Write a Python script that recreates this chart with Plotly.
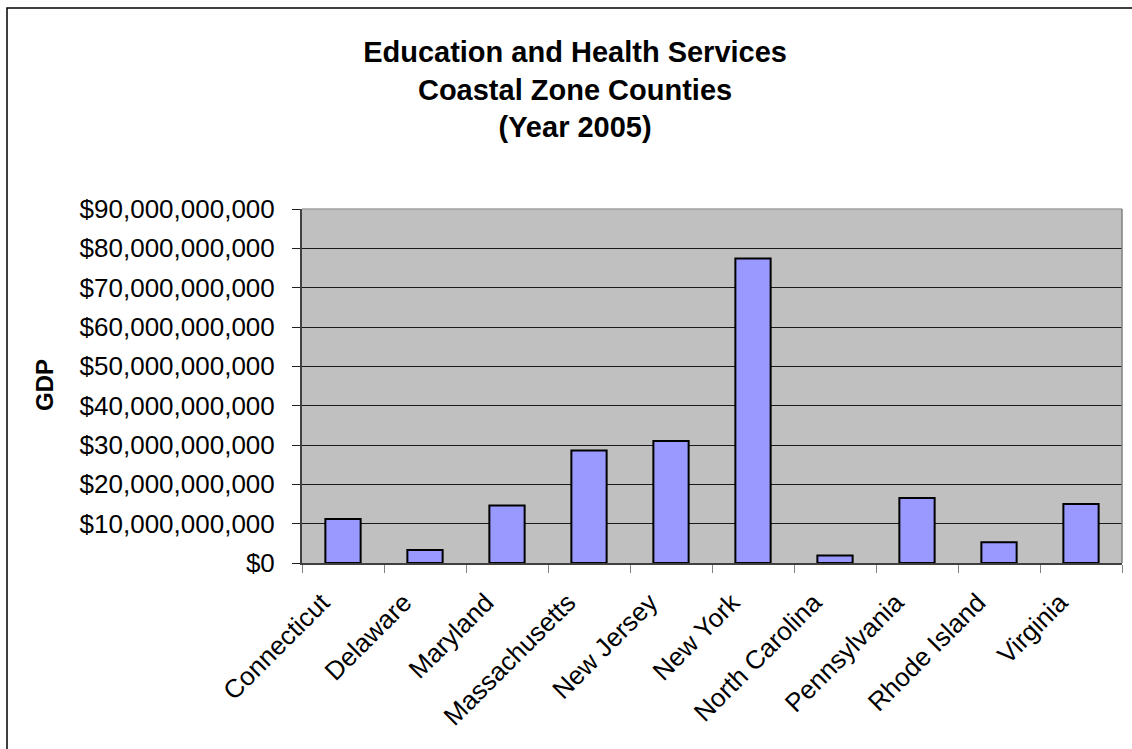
import plotly.graph_objects as go

# Coastal zone county GDP, education and health services, 2005
states = ["Connecticut", "Delaware", "Maryland", "Massachusetts", "New Jersey",
          "New York", "North Carolina", "Pennsylvania", "Rhode Island", "Virginia"]
gdp = [11.2e9, 3.3e9, 14.6e9, 28.6e9, 31.0e9, 77.4e9, 1.9e9, 16.5e9, 5.3e9, 15.0e9]
y_ticks = [i * 10e9 for i in range(10)]

FONT = "Liberation Sans, Arial, sans-serif"

fig = go.Figure(
    go.Bar(
        x=states,
        y=gdp,
        marker=dict(color="#9999FF", line=dict(color="#000000", width=2)),
        width=0.43,
    )
)

fig.update_layout(
    width=1132,
    height=749,
    margin=dict(l=302, r=10, t=209, b=186, autoexpand=False),
    paper_bgcolor="#FFFFFF",
    plot_bgcolor="#C0C0C0",
    showlegend=False,
    font=dict(family=FONT, color="#000000"),
    title=dict(
        text="<b>Education and Health Services<br>Coastal Zone Counties<br>(Year 2005)</b>",
        font=dict(family=FONT, size=29, color="#000000"),
        x=0.508,
        xanchor="center",
        xref="container",
        y=1 - 62 / 749,
        yanchor="top",
        yref="container",
    ),
)

fig.update_xaxes(
    type="category",
    tickangle=-45,
    tickfont=dict(family=FONT, size=26),
    tickson="boundaries",
    ticks="outside",
    ticklen=8,
    tickcolor="#808080",
    ticklabelshift=-21,
    ticklabelstandoff=12,
    showline=True,
    linecolor="#404040",
    linewidth=2,
    showgrid=False,
    automargin=False,
)

fig.update_yaxes(
    range=[0, 90e9],
    tickvals=y_ticks,
    tickformat="$,.0f",
    tickfont=dict(family=FONT, size=26),
    ticks="outside",
    ticklen=8,
    tickcolor="#202020",
    ticklabelstandoff=12,
    showline=True,
    linecolor="#404040",
    linewidth=2,
    showgrid=True,
    gridcolor="#1a1a1a",
    gridwidth=1,
    zeroline=False,
    automargin=False,
)

# Axis title
fig.add_annotation(
    text="<b>GDP</b>",
    xref="paper", yref="paper",
    x=(45 - 302) / 820, y=0.503,
    xanchor="center", yanchor="middle",
    showarrow=False,
    textangle=-90,
    font=dict(family=FONT, size=24, color="#000000"),
)

# Plot-area outline on the top and right
fig.add_shape(type="line", xref="paper", yref="paper", x0=0, x1=1, y0=1, y1=1,
              line=dict(color="#A0A0A0", width=1.5))
fig.add_shape(type="line", xref="paper", yref="paper", x0=1, x1=1, y0=0, y1=1,
              line=dict(color="#808080", width=1.5))

# Chart frame
fig.add_shape(type="rect", xref="paper", yref="paper",
              x0=(7 - 302) / 820, x1=1.2, y0=-1.0, y1=(563 - 8) / 354,
              line=dict(color="#000000", width=1.5), fillcolor="rgba(0,0,0,0)", layer="below")

fig.write_html("out.html")
